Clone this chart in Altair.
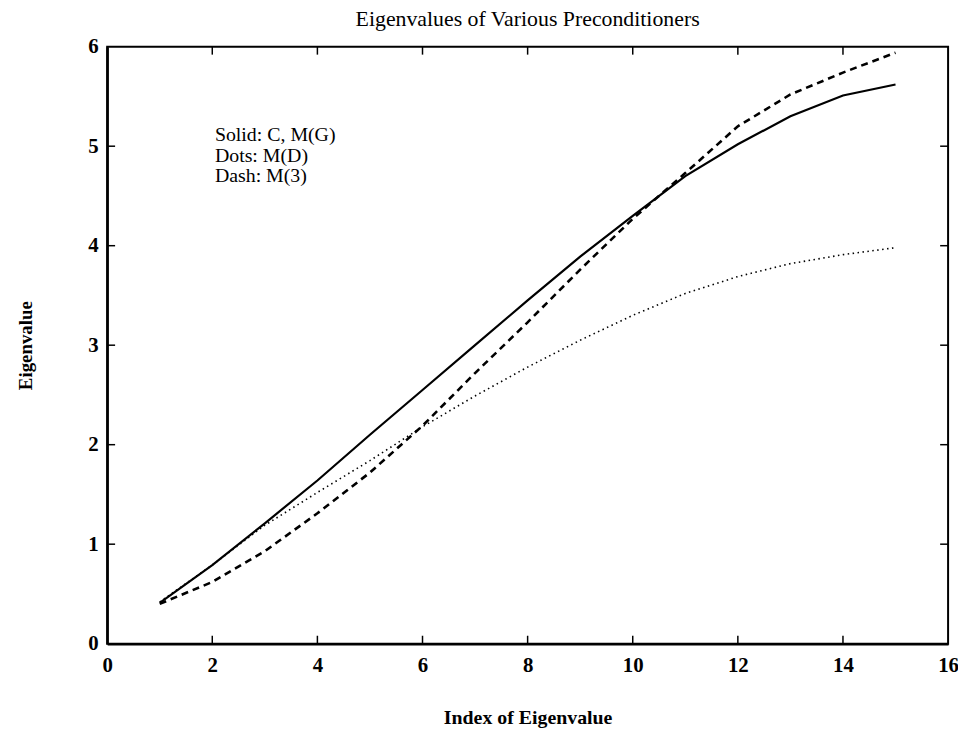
import altair as alt
import pandas as pd

# Eigenvalue index
index = list(range(1, 16))
# Solid: C, M(G)
solid_vals = [0.41, 0.79, 1.21, 1.64, 2.10, 2.55, 3.00, 3.45, 3.89, 4.30, 4.70, 5.02, 5.30, 5.51, 5.62]
# Dots: M(D)
dots_vals = [0.42, 0.79, 1.19, 1.52, 1.84, 2.18, 2.49, 2.78, 3.05, 3.30, 3.52, 3.69, 3.82, 3.91, 3.98]
# Dash: M(3)
dash_vals = [0.40, 0.62, 0.93, 1.31, 1.72, 2.19, 2.72, 3.23, 3.76, 4.27, 4.73, 5.20, 5.52, 5.74, 5.94]

x_ticks = [0, 2, 4, 6, 8, 10, 12, 14, 16]
y_ticks = [0, 1, 2, 3, 4, 5, 6]

legend_lines = ["Solid: C, M(G)", "Dots: M(D)", "Dash: M(3)"]
legend_pos = {"x": [2.05], "y": [5.05]}

W, H = 848, 602
FONT = "Liberation Serif"

xs = alt.Scale(domain=[0, 16], nice=False, zero=False)
ys = alt.Scale(domain=[0, 6], nice=False, zero=False)

x_axis = alt.Axis(values=x_ticks, ticks=False, grid=False, domainColor="black", domainWidth=2.5,
                  labelFont=FONT, labelFontSize=21, labelFontWeight="bold", labelColor="black",
                  labelPadding=11, labelFlush=False,
                  title="Index of Eigenvalue", titleFont=FONT, titleFontSize=20, titleFontWeight="bold",
                  titleColor="black", titlePadding=32)
y_axis = alt.Axis(values=y_ticks, ticks=False, grid=False, domainColor="black", domainWidth=2.5,
                  labelFont=FONT, labelFontSize=21, labelFontWeight="bold", labelColor="black",
                  labelPadding=9, labelFlush=False,
                  title="Eigenvalue", titleFont=FONT, titleFontSize=19, titleFontWeight="bold",
                  titleColor="black", titlePadding=53)

df_solid = pd.DataFrame({"i": index, "v": solid_vals})
df_dots = pd.DataFrame({"i": index, "v": dots_vals})
df_dash = pd.DataFrame({"i": index, "v": dash_vals})

X = lambda f: alt.X(f, scale=xs, axis=x_axis)
Y = lambda f: alt.Y(f, scale=ys, axis=y_axis)

solid = alt.Chart(df_solid).mark_line(color="black", strokeWidth=2.2).encode(x=X("i:Q"), y=Y("v:Q"))
dots = alt.Chart(df_dots).mark_line(color="black", strokeWidth=1.6, strokeDash=[1.5, 3.5]).encode(
    x=X("i:Q"), y=Y("v:Q"))
dash = alt.Chart(df_dash).mark_line(color="black", strokeWidth=2.6, strokeDash=[7, 5]).encode(
    x=X("i:Q"), y=Y("v:Q"))

xt = pd.DataFrame({"t": x_ticks[1:-1]})
yt = pd.DataFrame({"t": y_ticks[1:-1]})
TL = 8
tick_b = alt.Chart(xt).mark_rule(color="black", strokeWidth=1.5).encode(
    x=X("t:Q"), y=alt.value(H), y2=alt.value(H - TL))
tick_t = alt.Chart(xt).mark_rule(color="black", strokeWidth=1.5).encode(
    x=X("t:Q"), y=alt.value(0), y2=alt.value(TL))
tick_l = alt.Chart(yt).mark_rule(color="black", strokeWidth=1.5).encode(
    y=Y("t:Q"), x=alt.value(0), x2=alt.value(TL))
tick_r = alt.Chart(yt).mark_rule(color="black", strokeWidth=1.5).encode(
    y=Y("t:Q"), x=alt.value(W), x2=alt.value(W - TL))

legend_df = pd.DataFrame({"x": legend_pos["x"], "y": legend_pos["y"], "label": [legend_lines]})
legend = alt.Chart(legend_df).mark_text(
    font=FONT, fontSize=20, align="left", baseline="alphabetic", lineHeight=20.5, color="black"
).encode(x=X("x:Q"), y=Y("y:Q"), text="label")

chart = alt.layer(solid, dots, dash, tick_b, tick_t, tick_l, tick_r, legend).properties(
    width=W, height=H,
    title=alt.TitleParams("Eigenvalues of Various Preconditioners", font=FONT, fontSize=22,
                          fontWeight="normal", color="black", anchor="middle", offset=5),
    padding={"left": 100, "top": 36, "right": 10, "bottom": 82},
    autosize=alt.AutoSizeParams(type="none"),
    background="white",
).configure_view(stroke="black", strokeWidth=2)

chart.save("out.html", embed_options={"renderer": "svg", "actions": False})
